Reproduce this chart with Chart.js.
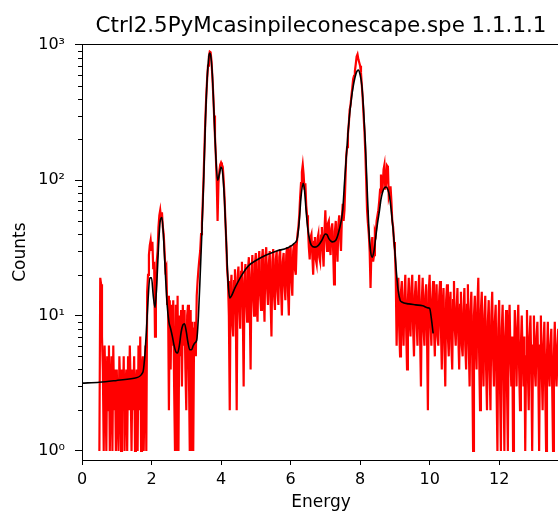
<!DOCTYPE html>
<html><head><meta charset="utf-8">
<script src="https://cdn.jsdelivr.net/npm/chart.js@4.4.1/dist/chart.umd.min.js"></script>
<style>html,body{margin:0;padding:0;overflow:hidden;background:#fff;width:558px;height:513px}canvas{display:block}</style>
</head><body>
<canvas id="c" width="642" height="513"></canvas>
<script>
const chartTitle = 'Ctrl2.5PyMcasinpileconescape.spe 1.1.1.1';
const xLabel = 'Energy';
const yLabel = 'Counts';
const xTicks = [0, 2, 4, 6, 8, 10, 12];
const yMajorTicks = [1, 10, 100, 1000];
const yTickLabels = ['10⁰', '10¹', '10²', '10³'];
const yMinorTicks = [2,3,4,5,6,7,8,9,20,30,40,50,60,70,80,90,200,300,400,500,600,700,800,900];

// measured spectrum (red): channel energies start at 0.500 keV, 0.025 keV apart (20 channels per row)
const specStart = 0.5;
const specStep = 0.025;
const specCounts = [
  1, 19, 17, 7, 4, 1, 6, 3, 1, 5, 2, 6, 1, 3, 5, 1, 6, 2, 4, 1,
  4, 2, 1, 5, 3, 1, 4, 2, 5, 1, 3, 4, 1, 5, 2, 6, 3, 1, 4, 2,
  5, 1, 3, 4, 1, 6, 2, 7, 1, 4, 5, 1, 3, 6, 1, 15, 20, 28, 33, 36,
  30, 35, 22, 25, 7, 14, 25, 30, 45, 55, 60, 52, 58, 45, 40, 30, 22, 23, 12, 14,
  2, 13, 4, 12, 6, 13, 3, 1, 12, 1, 14, 1, 10, 5, 11, 3, 12, 6, 11, 4,
  2, 10, 12, 4, 1, 11, 1, 9, 1, 8, 9, 5, 14, 18, 22, 26, 30, 40, 48, 70,
  110, 180, 290, 420, 560, 700, 820, 890, 880, 760, 580, 430, 300, 210, 150, 100, 50, 95, 115, 130,
  135, 130, 125, 100, 75, 50, 35, 22, 18, 10, 2, 15, 20, 9, 7, 18, 22, 10, 2, 19,
  23, 12, 8, 21, 25, 11, 3, 18, 24, 13, 9, 22, 27, 12, 4, 20, 28, 14, 10, 24,
  29, 12, 9, 25, 30, 14, 11, 26, 31, 15, 9, 27, 32, 16, 12, 24, 30, 13, 7, 25,
  31, 14, 11, 26, 30, 15, 12, 27, 31, 16, 10, 25, 29, 17, 13, 28, 32, 15, 10, 27,
  33, 18, 14, 30, 34, 22, 20, 33, 40, 45, 55, 75, 95, 115, 130, 110, 85, 95, 65, 55,
  45, 32, 26, 38, 40, 28, 20, 35, 38, 26, 24, 37, 40, 27, 25, 39, 45, 30, 23, 42,
  60, 38, 30, 48, 50, 33, 28, 44, 48, 30, 17, 42, 50, 33, 25, 47, 55, 38, 30, 52,
  67, 50, 60, 95, 150, 175, 220, 260, 330, 360, 420, 480, 560, 590, 640, 720, 820, 850, 780, 740,
  700, 620, 500, 400, 300, 230, 160, 100, 60, 48, 40, 30, 16, 30, 38, 25, 28, 42, 40, 50,
  55, 60, 70, 85, 110, 80, 90, 120, 130, 85, 95, 128, 125, 75, 80, 90, 70, 50, 45, 35,
  30, 20, 6, 14, 19, 8, 5, 15, 18, 9, 6, 14, 20, 8, 4, 13, 19, 9, 7, 16,
  20, 8, 5, 14, 18, 9, 6, 15, 20, 7, 3, 13, 19, 8, 6, 14, 17, 7, 2, 15,
  20, 9, 6, 13, 18, 8, 5, 12, 17, 7, 6, 14, 18, 8, 4, 12, 16, 6, 3, 13,
  17, 7, 5, 12, 15, 6, 4, 13, 18, 8, 6, 11, 16, 7, 4, 12, 15, 6, 5, 11,
  16, 6, 4, 12, 17, 6, 3, 11, 15, 5, 1, 10, 14, 6, 4, 12, 19, 5, 2, 11,
  15, 5, 3, 10, 14, 4, 2, 9, 13, 4, 2, 10, 15, 5, 3, 9, 12, 3, 1, 8,
  13, 3, 1, 8, 12, 4, 1, 7, 11, 3, 1, 8, 12, 5, 3, 7, 1, 4, 11, 6,
  3, 8, 12, 4, 2, 6, 10, 5, 3, 7, 1, 5, 11, 4, 2, 7, 10, 4, 1, 6,
  10, 4, 3, 7, 9, 4, 1, 6, 10, 4, 2, 6, 9, 3, 1, 5, 9, 4, 3, 6,
  8, 3, 1, 5, 9, 4, 3, 6, 8, 3, 2
];

// fit (black)
const fitEnergy = [0, 0.5, 1.0, 1.5, 1.75, 1.8, 1.85, 1.9, 1.95, 2.0, 2.05, 2.1, 2.15, 2.2, 2.25, 2.3, 2.35, 2.4, 2.45, 2.5, 2.55, 2.6, 2.65, 2.7, 2.75, 2.8, 2.85, 2.9, 2.95, 3.0, 3.05, 3.1, 3.15, 3.2, 3.25, 3.3, 3.35, 3.4, 3.45, 3.5, 3.55, 3.6, 3.65, 3.675, 3.7, 3.75, 3.8, 3.85, 3.9, 3.95, 4.0, 4.05, 4.1, 4.15, 4.2, 4.25, 4.3, 4.4, 4.6, 4.8, 5.0, 5.3, 5.6, 5.9, 6.1, 6.2, 6.25, 6.3, 6.36, 6.4, 6.45, 6.5, 6.55, 6.6, 6.7, 6.8, 6.9, 7.0, 7.05, 7.1, 7.2, 7.3, 7.4, 7.5, 7.55, 7.6, 7.65, 7.7, 7.75, 7.8, 7.85, 7.9, 7.95, 8.0, 8.05, 8.1, 8.15, 8.2, 8.25, 8.3, 8.35, 8.4, 8.45, 8.5, 8.55, 8.6, 8.65, 8.7, 8.75, 8.8, 8.85, 8.9, 8.95, 9.0, 9.05, 9.1, 9.15, 9.2, 9.4, 9.6, 9.8, 9.95, 10.0, 10.05, 10.1];
const fitCounts = [3.17, 3.22, 3.32, 3.45, 3.8, 4.8, 7.5, 13, 19, 19, 14, 11.5, 17, 32, 50, 53, 36, 20, 12, 9, 8, 7, 6, 5.4, 5.3, 6, 7.5, 8.5, 8.7, 7.6, 6.3, 5.6, 5.6, 6, 6.3, 6.6, 10, 20, 42, 100, 270, 560, 820, 870, 840, 600, 300, 150, 100, 110, 125, 110, 70, 35, 18, 13.5, 14, 16, 20, 23.5, 25.5, 28, 30, 31.5, 34, 38, 50, 75, 95, 85, 58, 43, 36, 33, 32, 33, 36, 40, 39.5, 37, 35, 36, 43, 60, 95, 145, 220, 310, 400, 490, 570, 630, 650, 600, 500, 330, 190, 90, 45, 30, 27, 30, 38, 48, 58, 72, 82, 88, 89, 85, 75, 58, 43, 30, 20, 15, 13, 12.6, 12.2, 12, 11.8, 11.4, 11.3, 9.5, 7.4];

const FONT = 'DejaVu Sans';
const specPoints = specCounts.map((c, i) => ({x: +(specStart + i * specStep).toFixed(4), y: c}));
const fitPoints = fitEnergy.map((e, i) => ({x: e, y: fitCounts[i]}));

const axesDecor = {
  id: 'axesDecor',
  afterDraw(chart) {
    const {ctx, chartArea: a} = chart;
    const y = chart.scales.y;
    ctx.save();
    ctx.strokeStyle = '#000';
    ctx.lineWidth = 1;
    ctx.beginPath();
    ctx.moveTo(a.left, Math.round(a.top) + 0.5);
    ctx.lineTo(a.right, Math.round(a.top) + 0.5);
    for (const v of yMinorTicks) {
      const p = Math.round(y.getPixelForValue(v)) + 0.5;
      ctx.moveTo(a.left - 4, p);
      ctx.lineTo(a.left, p);
    }
    ctx.stroke();
    ctx.restore();
  }
};

new Chart(document.getElementById('c'), {
  type: 'scatter',
  data: {
    datasets: [
      {data: specPoints, showLine: true, borderColor: '#ff0000', borderWidth: 2.2, pointRadius: 0, tension: 0, order: 2},
      {data: fitPoints, showLine: true, borderColor: '#000000', borderWidth: 1.6, pointRadius: 0, cubicInterpolationMode: 'monotone', order: 1}
    ]
  },
  options: {
    responsive: false,
    devicePixelRatio: 1,
    animation: false,
    events: [],
    layout: {padding: 0},
    plugins: {
      legend: {display: false},
      tooltip: {enabled: false},
      title: {display: true, text: chartTitle, color: '#000', font: {family: FONT, size: 21.4, weight: 'normal'}, padding: {top: 14, bottom: 4.6}}
    },
    scales: {
      x: {
        type: 'linear', min: 0, max: 13.75,
        afterBuildTicks: s => { s.ticks = xTicks.map(v => ({value: v})); },
        afterFit: s => { s.height = 53; },
        ticks: {color: '#000', font: {family: FONT, size: 16}, padding: 5, maxRotation: 0, callback: v => String(v)},
        grid: {drawOnChartArea: false, drawTicks: true, tickLength: 5, tickColor: '#000', tickWidth: 1},
        border: {display: true, color: '#000', width: 1},
        title: {display: true, text: xLabel, color: '#000', font: {family: FONT, size: 17}, padding: {top: 0, bottom: 0}}
      },
      y: {
        type: 'logarithmic', min: 0.858, max: 1008,
        afterBuildTicks: s => { s.ticks = yMajorTicks.map(v => ({value: v})); },
        afterFit: s => { s.width = 82; },
        ticks: {color: '#000', font: {family: FONT, size: 16}, padding: 10, callback: v => { const k = yMajorTicks.indexOf(v); return k >= 0 ? yTickLabels[k] : ''; }},
        grid: {drawOnChartArea: false, drawTicks: true, tickLength: 7, tickColor: '#000', tickWidth: 1},
        border: {display: true, color: '#000', width: 1},
        title: {display: true, text: yLabel, color: '#000', font: {family: FONT, size: 17}, padding: {top: 10, bottom: 0}}
      },
      yR: {
        type: 'linear', position: 'right', display: true,
        afterFit: s => { s.width = 82; },
        ticks: {display: false},
        grid: {display: false, drawTicks: false},
        border: {display: false}
      }
    }
  },
  plugins: [axesDecor]
});
</script>
</body></html>
